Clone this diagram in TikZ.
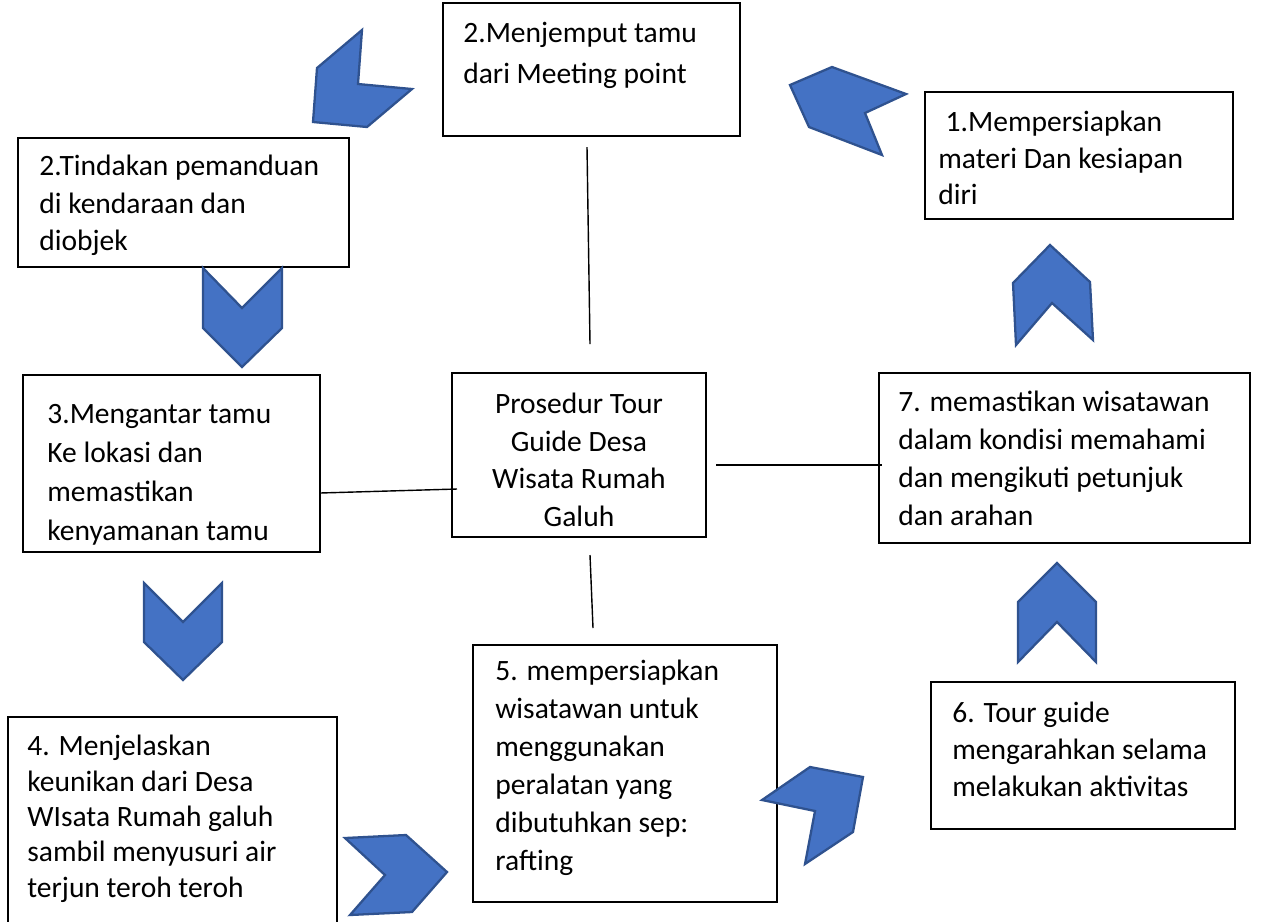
\documentclass[tikz,border=0pt]{standalone}
\usepackage{fontspec}
\setmainfont{Carlito}
\usetikzlibrary{fit}
\definecolor{chevblue}{HTML}{4472C4}
\definecolor{chevedge}{HTML}{2F528F}
\tikzset{
  box/.style={draw, line width=1.1pt, inner sep=0pt},
  txt/.style={anchor=north west, inner sep=0pt, align=left, font=\fontsize{16.8}{#1}\selectfont},
  chev/.style={fill=chevblue, draw=chevedge, line width=1.3pt, line join=miter},
  link/.style={line width=0.8pt},
}

\begin{document}
\begin{tikzpicture}[x=0.02cm,y=-0.02cm]
\path[use as bounding box, clip] (0,0) rectangle (1264,921);
%% boxes
\node[box, fit={(443,3) (740,136)}] (meet) {};
\node[box, fit={(925,92) (1233,219)}] (prep) {};
\node[box, fit={(18,138) (349,267)}] (guide) {};
\node[box, fit={(23,375) (320,552)}] (deliver) {};
\node[box, fit={(452,373) (706,537)}] (core) {};
\node[box, fit={(879,373) (1250,543)}] (ensure) {};
\node[box, fit={(8,717) (337,940)}] (explain) {};
\node[box, fit={(473,645) (777,902)}] (gear) {};
\node[box, fit={(931,682) (1235,829)}] (lead) {};
%% texts
\node[txt=23.3pt] (meet-t) at (463,22) {2.Menjemput tamu\\dari Meeting point};
\node[txt=20.8pt] (prep-t) at (938,111) {\hspace{0.25em}1.Mempersiapkan\\materi Dan kesiapan\\diri};
\node[txt=21.3pt] (guide-t) at (39,155) {2.Tindakan pemanduan\\di kendaraan dan\\diobjek};
\node[txt=22.2pt] (deliver-t) at (47,404) {3.Mengantar tamu\\Ke lokasi dan\\memastikan\\kenyamanan tamu};
\node[txt=21.3pt, anchor=north, align=center] (core-t) at (579,393) {Prosedur Tour\\Guide Desa\\Wisata Rumah\\Galuh};
\node[txt=21.6pt] (ensure-t) at (898,391) {7. memastikan wisatawan\\dalam kondisi memahami\\dan mengikuti petunjuk\\dan arahan};
\node[txt=20.1pt] (explain-t) at (27,735) {4. Menjelaskan\\keunikan dari Desa\\WIsata Rumah galuh\\sambil menyusuri air\\terjun teroh teroh};
\node[txt=21.6pt] (gear-t) at (495,660) {5. mempersiapkan\\wisatawan untuk\\menggunakan\\peralatan yang\\dibutuhkan sep:\\rafting};
\node[txt=21pt] (lead-t) at (952,702) {6. Tour guide\\mengarahkan selama\\melakukan aktivitas};
%% links
\coordinate (up0) at (587,147);
\coordinate (up1) at (590,344);
\coordinate (lf0) at (320,493);
\coordinate (lf1) at (457,489);
\coordinate (rt0) at (716,465);
\coordinate (rt1) at (882,465);
\coordinate (dn0) at (590,555);
\coordinate (dn1) at (593,628);
\draw[link] (up0) -- (up1);
\draw[link] (lf0) -- (lf1);
\draw[link] (rt0) -- (rt1);
\draw[link] (dn0) -- (dn1);
%% chevrons
\draw[chev] (362,30) -- (317,68) -- (313,122) -- (367,127) -- (412,89) -- (358,84) -- cycle;
\draw[chev] (832,67) -- (790,85) -- (809,127) -- (882,155) -- (865,113) -- (906,94) -- cycle;
\draw[chev] (203,268) -- (242,308) -- (282,268) -- (282,328) -- (242,367) -- (203,328) -- cycle;
\draw[chev] (1050,245) -- (1090,282) -- (1093,340) -- (1052,303) -- (1016,345) -- (1013,283) -- cycle;
\draw[chev] (144,583) -- (183,622) -- (222,583) -- (222,642) -- (183,680) -- (144,642) -- cycle;
\draw[chev] (1057,563) -- (1096,602) -- (1096,662) -- (1057,622) -- (1018,662) -- (1018,602) -- cycle;
\draw[chev] (345,838) -- (406,835) -- (447,872) -- (412,912) -- (350,915) -- (385,875) -- cycle;
\draw[chev] (810,767) -- (863,777) -- (853,832) -- (805,864) -- (815,811) -- (762,800) -- cycle;
\end{tikzpicture}
\end{document}
